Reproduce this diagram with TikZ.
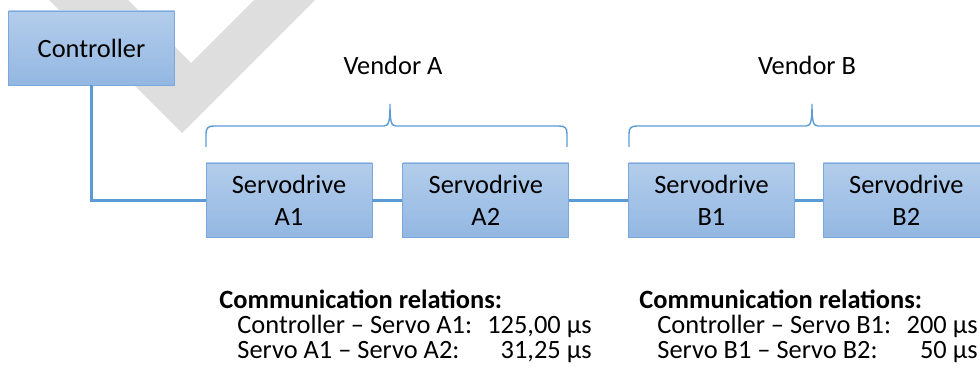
\documentclass[tikz,border=0pt]{standalone}
\usepackage{fontspec}
\setmainfont{Carlito}
\usetikzlibrary{positioning}
\definecolor{boxtop}{HTML}{B3CDEB}
\definecolor{boxbot}{HTML}{93B7E2}
\definecolor{boxline}{HTML}{7AA7DC}
\definecolor{wire}{HTML}{5B9BD5}
\definecolor{checkgrey}{HTML}{DEDEDE}
\begin{document}
\begin{tikzpicture}[x=0.5pt,y=-0.5pt]
\tikzstyle{drive} = [draw=boxline, top color=boxtop, bottom color=boxbot, minimum width=83pt, minimum height=37pt, align=center, inner sep=0pt, font=\fontsize{13.2}{16}\selectfont];
\tikzstyle{txt} = [inner sep=0pt, font=\fontsize{13.2}{16}\selectfont];
\tikzstyle{link} = [draw=wire, line width=1.5pt];
\tikzstyle{brace} = [draw=wire, line width=0.7pt];
\clip (0,0) rectangle (980,374);
\fill[checkgrey] (49,0) -- (182,133) -- (315,0) -- (254,0) -- (191,63) -- (128,0) -- cycle;
\node[drive] (C) at (91.5,48) {Controller};
\node[drive] (A1) at (289,200) {Servodrive\\A1};
\node[drive, right=15pt of A1] (A2) {Servodrive\\A2};
\node[drive] (B1) at (711.5,200) {Servodrive\\B1};
\node[drive, right=14pt of B1] (B2) {Servodrive\\B2};
\draw[link] (C.south) |- (A1.west);
\draw[link] (A1) -- (A2) (A2) -- (B1) (B1) -- (B2);
\node[txt, anchor=base] (VA) at (393,75) {Vendor A};
\node[txt, anchor=base] (VB) at (807,75) {Vendor B};
\draw[brace] (206,147) -- (206,134) .. controls (206,128) and (208,126) .. (214,126) -- (384,126) .. controls (389,126) and (390,121) .. (390,104) .. controls (390,121) and (391,126) .. (396,126) -- (559,126) .. controls (565,126) and (567,128) .. (567,134) -- (567,147);
\draw[brace] (629,147) -- (629,134) .. controls (629,128) and (631,126) .. (637,126) -- (806,126) .. controls (811,126) and (812,121) .. (812,104) .. controls (812,121) and (813,126) .. (818,126) -- (980,126) .. controls (986,126) and (988,128) .. (988,134) -- (988,147);
\node[txt, font=\fontsize{13.2}{16}\selectfont\bfseries, anchor=base west] (RA) at (219,308) {Communication relations:};
\node[txt, anchor=base west] (RA1) at (237,333) {Controller – Servo A1:};
\node[txt, anchor=base east] (TA1) at (592,333) {125,00 µs};
\node[txt, anchor=base west] (RA2) at (237,358) {Servo A1 – Servo A2:};
\node[txt, anchor=base east] (TA2) at (592,358) {31,25 µs};
\node[txt, font=\fontsize{13.2}{16}\selectfont\bfseries, anchor=base west] (RB) at (639,308) {Communication relations:};
\node[txt, anchor=base west] (RB1) at (657,333) {Controller – Servo B1:};
\node[txt, anchor=base east] (TB1) at (978,333) {200 µs};
\node[txt, anchor=base west] (RB2) at (657,358) {Servo B1 – Servo B2:};
\node[txt, anchor=base east] (TB2) at (978,358) {50 µs};
\end{tikzpicture}
\end{document}
